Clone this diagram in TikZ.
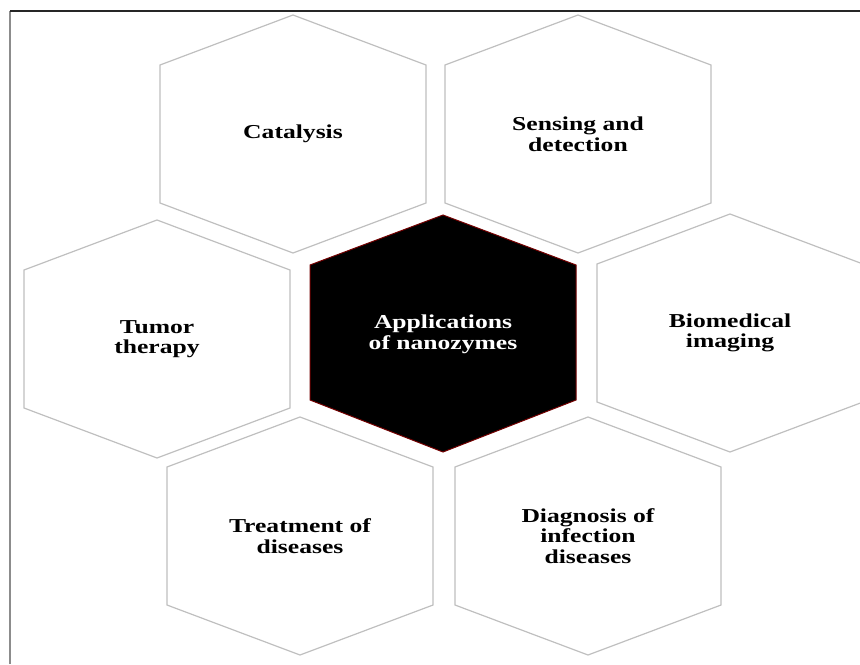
\documentclass[tikz,border=0pt]{standalone}
\usepackage{fontspec}
\setmainfont{Liberation Serif}
\usepackage{tikz}
\usetikzlibrary{calc}

\begin{document}
\begin{tikzpicture}[x=0.5pt, y=-0.5pt,
    hexline/.style={draw=black!25, line width=0.6pt},
    hexdark/.style={fill=black, draw=red!45!black, line width=0.5pt},
    celltext/.style={font=\fontsize{12.8}{13.4}\selectfont\bfseries, align=center,
        inner sep=0pt, yscale=0.77, transform shape}]
    \clip (0,0) rectangle (860,664);

    % Frame lines at top and left
    \draw[black!45, line width=0.7pt] (10,664) -- (10,11);
    \draw[black!85, line width=0.6pt] (10,11) -- (860,11);

    % Outer hexagons
    \foreach \name/\x/\y/\txt in {cat/293/134/{Catalysis},
                                 sens/578/134/{Sensing and\\detection},
                                 tum/157/339/{Tumor\\therapy},
                                 bio/730/333/{Biomedical\\imaging},
                                 treat/300/536/{Treatment of\\diseases},
                                 diag/588/536/{Diagnosis of\\infection\\diseases}}{
        \node[celltext] (\name) at (\x,\y) {\txt};
        \draw[hexline] (\name.center) ++(0,-119) -- ++(133,50) -- ++(0,138)
            -- ++(-133,50) -- ++(-133,-50) -- ++(0,-138) -- cycle;
    }

    % Central hexagon
    \coordinate (appc) at (443,333);
    \draw[hexdark] (appc) ++(0,-118) -- ++(133,50) -- ++(0,135)
        -- ++(-133,52) -- ++(-133,-52) -- ++(0,-135) -- cycle;
    \node[celltext, text=white] (app) at (443,334) {Applications\\of nanozymes};
\end{tikzpicture}
\end{document}
